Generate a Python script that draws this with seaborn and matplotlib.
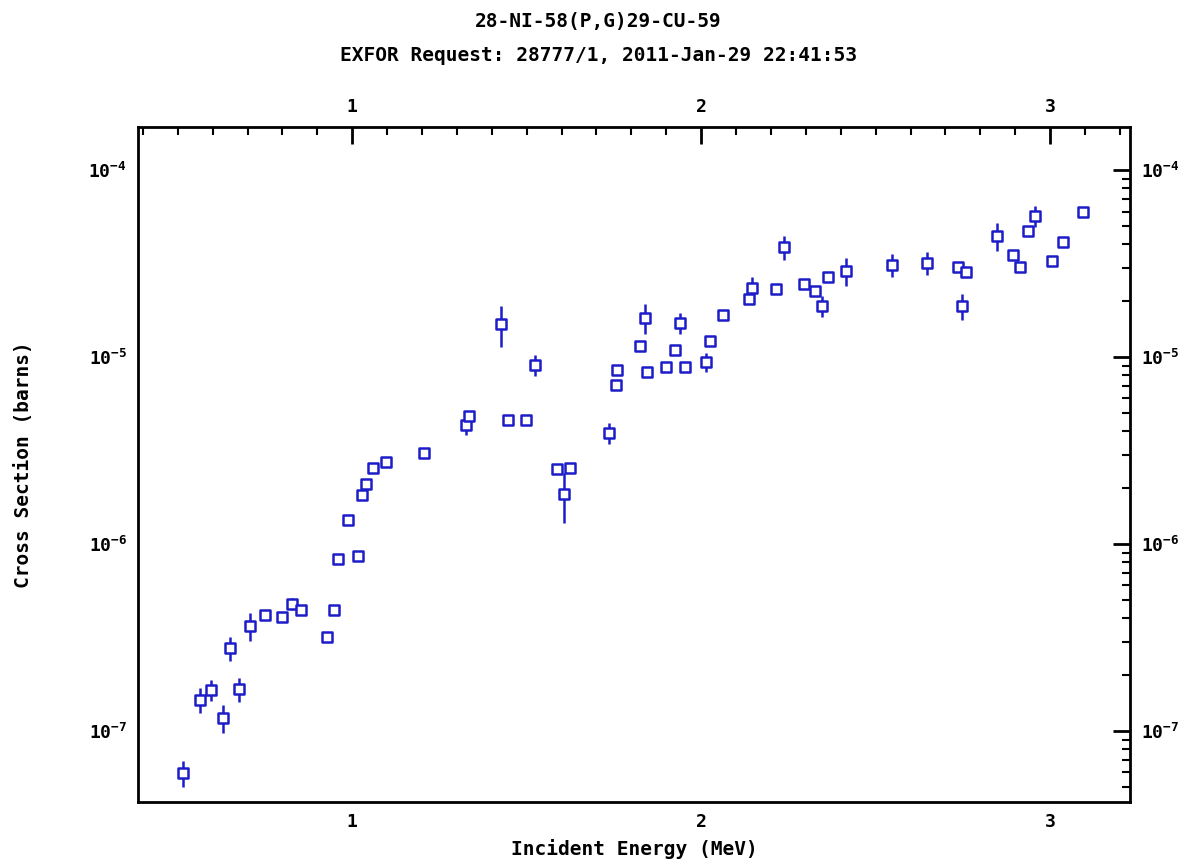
import numpy as np
import pandas as pd
import seaborn as sns
import matplotlib
matplotlib.use("Agg")
import matplotlib.pyplot as plt
from matplotlib.ticker import MultipleLocator, LogLocator, NullFormatter, FixedLocator

# data
energy = [0.515, 0.564, 0.595, 0.630, 0.650, 0.676, 0.707, 0.750, 0.799, 0.828,
          0.854, 0.928, 0.948, 0.960, 0.989, 1.017, 1.029, 1.040, 1.060, 1.098,
          1.207, 1.327, 1.336, 1.425, 1.445, 1.499, 1.525, 1.588, 1.608, 1.623,
          1.735, 1.757, 1.760, 1.826, 1.838, 1.846, 1.898, 1.924, 1.938, 1.953,
          2.013, 2.024, 2.062, 2.136, 2.145, 2.214, 2.237, 2.294, 2.326, 2.346,
          2.363, 2.415, 2.547, 2.647, 2.736, 2.748, 2.759, 2.848, 2.894, 2.914,
          2.937, 2.957, 3.006, 3.037, 3.095]
xsec = [5.96e-8, 1.47e-7, 1.66e-7, 1.17e-7, 2.78e-7, 1.68e-7, 3.64e-7, 4.17e-7, 4.07e-7, 4.78e-7,
        4.43e-7, 3.18e-7, 4.43e-7, 8.3e-7, 1.34e-6, 8.6e-7, 1.83e-6, 2.09e-6, 2.55e-6, 2.75e-6,
        3.07e-6, 4.33e-6, 4.83e-6, 1.50e-5, 4.6e-6, 4.6e-6, 9.06e-6, 2.52e-6, 1.85e-6, 2.55e-6,
        3.93e-6, 7.08e-6, 8.5e-6, 1.15e-5, 1.62e-5, 8.3e-6, 8.85e-6, 1.09e-5, 1.52e-5, 8.85e-6,
        9.4e-6, 1.22e-5, 1.68e-5, 2.04e-5, 2.34e-5, 2.31e-5, 3.87e-5, 2.46e-5, 2.25e-5, 1.87e-5,
        2.68e-5, 2.89e-5, 3.10e-5, 3.18e-5, 3.03e-5, 1.87e-5, 2.85e-5, 4.43e-5, 3.51e-5, 3.03e-5,
        4.72e-5, 5.68e-5, 3.26e-5, 4.12e-5, 5.96e-5]
rel_err = [0.16, 0.15, 0.13, 0.17, 0.15, 0.15, 0.17, 0.05, 0.05, 0.07,
           0.06, 0.03, 0.06, 0.04, 0.05, 0.05, 0.04, 0.05, 0.06, 0.04,
           0.06, 0.12, 0.04, 0.25, 0.03, 0.03, 0.13, 0.05, 0.30, 0.05,
           0.13, 0.03, 0.04, 0.03, 0.18, 0.03, 0.03, 0.04, 0.13, 0.03,
           0.12, 0.03, 0.04, 0.04, 0.14, 0.03, 0.15, 0.04, 0.03, 0.13,
           0.05, 0.17, 0.14, 0.14, 0.05, 0.16, 0.04, 0.17, 0.05, 0.05,
           0.05, 0.13, 0.03, 0.03, 0.05]

df = pd.DataFrame({"energy": energy, "xsec": xsec, "err": rel_err})
df["lo"] = df.xsec * (1 - df.err)
df["hi"] = df.xsec * (1 + df.err)

blue = "#1c1cc8"
mono = "DejaVu Sans Mono"

sns.set_style("white")
plt.rcParams["font.family"] = [mono, "DejaVu Sans"]
plt.rcParams["text.color"] = "black"
plt.rcParams["axes.labelcolor"] = "black"

fig = plt.figure(figsize=(11.96, 8.6), dpi=100)
ax = fig.add_axes([0.1154, 0.0674, 0.8294, 0.7849])

# error bars then the open squares
ax.vlines(df.energy, df.lo, df.hi, color=blue, lw=1.8, zorder=2)
sns.scatterplot(data=df, x="energy", y="xsec", marker="s", s=50,
                facecolor="white", edgecolor=blue, linewidth=1.8, ax=ax, zorder=3)

ax.set_yscale("log")
ax.set_xlim(0.386, 3.229)
ax.set_ylim(10**-7.38, 10**-3.77)

ax.xaxis.set_major_locator(FixedLocator([1, 2, 3]))
ax.xaxis.set_minor_locator(MultipleLocator(0.1))
ax.yaxis.set_major_locator(LogLocator(base=10, numticks=10))
ax.yaxis.set_minor_locator(LogLocator(base=10, subs=np.arange(2, 10), numticks=20))
ax.yaxis.set_minor_formatter(NullFormatter())

ax.tick_params(which="both", direction="in", top=True, right=True,
               labeltop=True, labelright=True, color="black", labelcolor="black")
ax.tick_params(which="major", length=12, width=2, labelsize=13, pad=8)
ax.tick_params(which="minor", length=6, width=1.5)
for lab in ax.get_xticklabels() + ax.get_yticklabels():
    lab.set_fontweight("bold")

for sp in ax.spines.values():
    sp.set_visible(True)
    sp.set_color("black")
    sp.set_linewidth(2)

ax.set_xlabel("Incident Energy (MeV)", fontsize=14, fontweight="bold", labelpad=6)
ax.set_ylabel("Cross Section (barns)", fontsize=14, fontweight="bold", labelpad=40)

fig.text(0.5, 0.975, "28-NI-58(P,G)29-CU-59", ha="center", va="center",
         fontsize=14, fontweight="bold")
fig.text(0.5, 0.936, "EXFOR Request: 28777/1, 2011-Jan-29 22:41:53", ha="center",
         va="center", fontsize=14, fontweight="bold")

fig.savefig("out.png", dpi=100)
